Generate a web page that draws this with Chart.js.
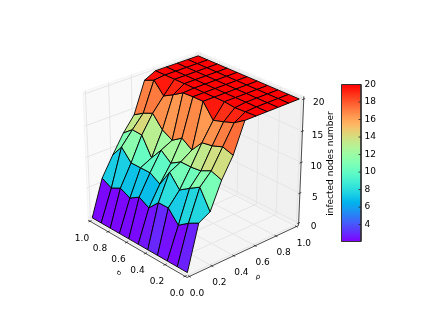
<!DOCTYPE html>
<html>
<head>
<meta charset="utf-8">
<title>infected nodes number</title>
<style>
  html, body { margin: 0; padding: 0; background: #fff; }
  canvas { display: block; }
</style>
<script src="https://cdn.jsdelivr.net/npm/chart.js@4"></script>
</head>
<body>
<canvas id="surface" width="436" height="327"></canvas>
<script>
// grid of the surface
var rhoValues = [0, 0.1, 0.2, 0.3, 0.4, 0.5, 0.6, 0.7, 0.8, 0.9, 1];
var sigmaValues = [1, 0.9, 0.8, 0.7, 0.6, 0.5, 0.4, 0.3, 0.2, 0.1, 0];

// infected nodes number, one list per rho, sigma going from 1.0 down to 0.0
var infectedRho00 = [0, 0, 0, 0, 0, 0, 0, 0, 0, 0, 0];
var infectedRho01 = [5.9, 5.1, 5.9, 5.1, 6.1, 5.2, 6.9, 6.9, 5.0, 6.2, 7.1];
var infectedRho02 = [9.0, 11.1, 9.3, 9.3, 9.3, 8.3, 11.0, 9.0, 10.1, 11.1, 8.1];
var infectedRho03 = [11.9, 13.2, 13.1, 10.2, 12.2, 10.9, 11.9, 11.9, 12.1, 12.9, 12.3];
var infectedRho04 = [14.2, 15.2, 15.9, 14.0, 13.1, 14.2, 13.1, 15.0, 15.3, 15.9, 15.4];
var infectedRho05 = [19.1, 19.8, 18.0, 18.9, 19.9, 20, 20, 17.8, 18.3, 18.9, 20];
var infectedRho06 = [20, 20, 20, 20, 20, 20, 20, 20, 19.8, 19.9, 20];
var infectedRho07 = [20, 20, 20, 20, 20, 20, 20, 20, 20, 20, 20];
var infectedRho08 = [20, 20, 20, 20, 20, 20, 20, 20, 20, 20, 20];
var infectedRho09 = [20, 20, 20, 20, 20, 20, 20, 20, 20, 20, 20];
var infectedRho10 = [20, 20, 20, 20, 20, 20, 20, 20, 20, 20, 20];
var infectedRows = [infectedRho00, infectedRho01, infectedRho02, infectedRho03, infectedRho04, infectedRho05,
  infectedRho06, infectedRho07, infectedRho08, infectedRho09, infectedRho10];

// tick labels
var rhoTicks = ["0.0", "0.2", "0.4", "0.6", "0.8", "1.0"];
var sigmaTicks = ["0.0", "0.2", "0.4", "0.6", "0.8", "1.0"];
var zTicks = [0, 5, 10, 15, 20];
var colorbarTicks = [4, 6, 8, 10, 12, 14, 16, 18, 20];
var colorMin = 2.07;
var colorMax = 20;
var faceColorMin = 2.6;

// camera, same idea as mplot3d
var ELEV = 28 * Math.PI / 180;
var AZIM = 228 * Math.PI / 180;
var DIST = 10;
var SX = 146.5, SY = 140, CX = 193, CY = 160;
var PAD = 1 / 48;
var FONT = '9px "DejaVu Sans"';

var right = [-Math.sin(AZIM), Math.cos(AZIM), 0];
var up = [-Math.sin(ELEV) * Math.cos(AZIM), -Math.sin(ELEV) * Math.sin(AZIM), Math.cos(ELEV)];
var toEye = [Math.cos(ELEV) * Math.cos(AZIM), Math.cos(ELEV) * Math.sin(AZIM), Math.sin(ELEV)];

function dot(a, b) {
  return a[0] * b[0] + a[1] * b[1] + a[2] * b[2];
}

function project(rho, sigma, z) {
  var p = [rho - 0.5, sigma - 0.5, z / 20 - 0.5];
  var depth = DIST - dot(p, toEye);
  var f = DIST / depth;
  return { x: CX + SX * dot(p, right) * f, y: CY - SY * dot(p, up) * f, depth: depth };
}

function rainbow(t) {
  t = Math.max(0, Math.min(1, t));
  var r = Math.min(1, Math.abs(2 * t - 0.5));
  var g = Math.sin(Math.PI * t);
  var b = Math.cos(Math.PI * t / 2);
  return "rgb(" + Math.round(r * 255) + "," + Math.round(g * 255) + "," + Math.round(b * 255) + ")";
}

function polyline(points, stroke, width, fill) {
  return {
    data: points.map(function (p) { return { x: p.x, y: p.y }; }),
    showLine: true,
    pointRadius: 0,
    borderColor: stroke,
    borderWidth: width,
    backgroundColor: fill || "transparent",
    fill: fill ? "shape" : false,
    borderJoinStyle: "round",
    clip: false
  };
}

function faceDatasets() {
  var faces = [];
  for (var i = 0; i < rhoValues.length - 1; i++) {
    for (var j = 0; j < sigmaValues.length - 1; j++) {
      var z = [infectedRows[i][j], infectedRows[i][j + 1], infectedRows[i + 1][j + 1], infectedRows[i + 1][j]];
      var pts = [
        project(rhoValues[i], sigmaValues[j], z[0]),
        project(rhoValues[i], sigmaValues[j + 1], z[1]),
        project(rhoValues[i + 1], sigmaValues[j + 1], z[2]),
        project(rhoValues[i + 1], sigmaValues[j], z[3])
      ];
      var avg = (z[0] + z[1] + z[2] + z[3]) / 4;
      faces.push({
        depth: (pts[0].depth + pts[1].depth + pts[2].depth + pts[3].depth) / 4,
        set: polyline(pts.concat([pts[0]]), "#000", 0.9, rainbow((avg - faceColorMin) / (colorMax - faceColorMin)))
      });
    }
  }
  // chart.js paints the last dataset first, so nearest face goes first in the list
  faces.sort(function (a, b) { return a.depth - b.depth; });
  return faces.map(function (f) { return f.set; });
}

function boxDatasets() {
  var lo = -PAD, hi = 1 + PAD, zLo = -20 * PAD, zHi = 20 + 20 * PAD;
  var front = [], grid = [], panes = [];

  // axis lines and ticks
  front.push(polyline([project(lo, lo, zLo), project(hi, lo, zLo)], "#222", 0.8));
  front.push(polyline([project(lo, lo, zLo), project(lo, hi, zLo)], "#222", 0.8));
  front.push(polyline([project(hi, lo, zLo), project(hi, lo, zHi)], "#222", 0.8));

  rhoTicks.forEach(function (t) {
    var v = parseFloat(t);
    front.push(polyline([project(v, lo + 0.014, zLo), project(v, lo - 0.014, zLo)], "#222", 0.8));
    grid.push(polyline([project(v, lo, zLo), project(v, hi, zLo), project(v, hi, zHi)], "#e6e6e6", 1));
  });
  sigmaTicks.forEach(function (t) {
    var v = parseFloat(t);
    front.push(polyline([project(lo + 0.014, v, zLo), project(lo - 0.014, v, zLo)], "#222", 0.8));
    grid.push(polyline([project(lo, v, zLo), project(hi, v, zLo), project(hi, v, zHi)], "#e6e6e6", 1));
  });
  zTicks.forEach(function (v) {
    front.push(polyline([project(hi - 0.014, lo, v), project(hi + 0.014, lo, v)], "#222", 0.8));
    grid.push(polyline([project(lo, hi, v), project(hi, hi, v), project(hi, lo, v)], "#e6e6e6", 1));
  });

  panes.push(polyline([project(lo, lo, zLo), project(hi, lo, zLo), project(hi, hi, zLo), project(lo, hi, zLo), project(lo, lo, zLo)], "#ececec", 0.5, "#f5f5f5"));
  panes.push(polyline([project(lo, hi, zLo), project(hi, hi, zLo), project(hi, hi, zHi), project(lo, hi, zHi), project(lo, hi, zLo)], "#ececec", 0.5, "#f9f9f9"));
  panes.push(polyline([project(hi, hi, zLo), project(hi, lo, zLo), project(hi, lo, zHi), project(hi, hi, zHi), project(hi, hi, zLo)], "#ececec", 0.5, "#f1f1f1"));

  return front.concat(grid, panes);
}

var BAR_LEFT = 341.5, BAR_RIGHT = 361, BAR_TOP = 84.5, BAR_BOTTOM = 241.5;

function colorbarY(v) {
  return BAR_BOTTOM - (v - colorMin) / (colorMax - colorMin) * (BAR_BOTTOM - BAR_TOP);
}

function colorbarDatasets(ctx) {
  var gradient = ctx.createLinearGradient(0, BAR_BOTTOM, 0, BAR_TOP);
  for (var i = 0; i <= 32; i++) {
    gradient.addColorStop(i / 32, rainbow(i / 32));
  }
  var sets = [];
  colorbarTicks.forEach(function (v) {
    sets.push(polyline([{ x: BAR_RIGHT - 2.5, y: colorbarY(v) }, { x: BAR_RIGHT, y: colorbarY(v) }], "#222", 0.8));
  });
  sets.push(polyline([
    { x: BAR_LEFT, y: BAR_TOP }, { x: BAR_RIGHT, y: BAR_TOP }, { x: BAR_RIGHT, y: BAR_BOTTOM },
    { x: BAR_LEFT, y: BAR_BOTTOM }, { x: BAR_LEFT, y: BAR_TOP }
  ], "#333", 1, gradient));
  return sets;
}

var textPlugin = {
  id: "axisText",
  afterDraw: function (chart) {
    var ctx = chart.ctx;
    var sx = chart.scales.x, sy = chart.scales.y;

    function label(text, x, y, angle, font) {
      ctx.save();
      ctx.translate(sx.getPixelForValue(x), sy.getPixelForValue(y));
      ctx.rotate(angle || 0);
      ctx.font = font || FONT;
      ctx.fillStyle = "#000";
      ctx.textAlign = "center";
      ctx.textBaseline = "middle";
      ctx.fillText(text, 0, 0);
      ctx.restore();
    }

    rhoTicks.forEach(function (t) {
      var p = project(parseFloat(t), -PAD, -20 * PAD);
      label(t, p.x + 7.5, p.y + 17);
    });
    sigmaTicks.forEach(function (t) {
      var p = project(-PAD, parseFloat(t), -20 * PAD);
      label(t, p.x - 8, p.y + 17);
    });
    zTicks.forEach(function (v) {
      var p = project(1 + PAD, -PAD, v);
      label(String(v), p.x + 15, p.y + 4);
    });
    colorbarTicks.forEach(function (v) {
      ctx.save();
      ctx.font = FONT;
      ctx.fillStyle = "#000";
      ctx.textAlign = "left";
      ctx.textBaseline = "middle";
      ctx.fillText(String(v), sx.getPixelForValue(BAR_RIGHT + 3.5), sy.getPixelForValue(colorbarY(v)));
      ctx.restore();
    });

    label("\u03c3", 119, 273, -1.05, '7px "DejaVu Sans"');
    label("\u03c1", 258, 277, 0.2, '7px "DejaVu Sans"');
    label("infected nodes number", 330.5, 163.5, -Math.PI / 2);
  }
};

document.addEventListener("DOMContentLoaded", function () {
  var canvas = document.getElementById("surface");
  var ctx = canvas.getContext("2d");

  new Chart(ctx, {
    type: "scatter",
    data: { datasets: colorbarDatasets(ctx).concat(faceDatasets(), boxDatasets()) },
    options: {
      responsive: false,
      animation: false,
      devicePixelRatio: 1,
      layout: { padding: 0 },
      plugins: { legend: { display: false }, tooltip: { enabled: false }, title: { display: false } },
      scales: {
        x: { type: "linear", min: 0, max: 436, display: false },
        y: { type: "linear", min: 0, max: 327, reverse: true, display: false }
      }
    },
    plugins: [textPlugin]
  });
});
</script>
</body>
</html>
